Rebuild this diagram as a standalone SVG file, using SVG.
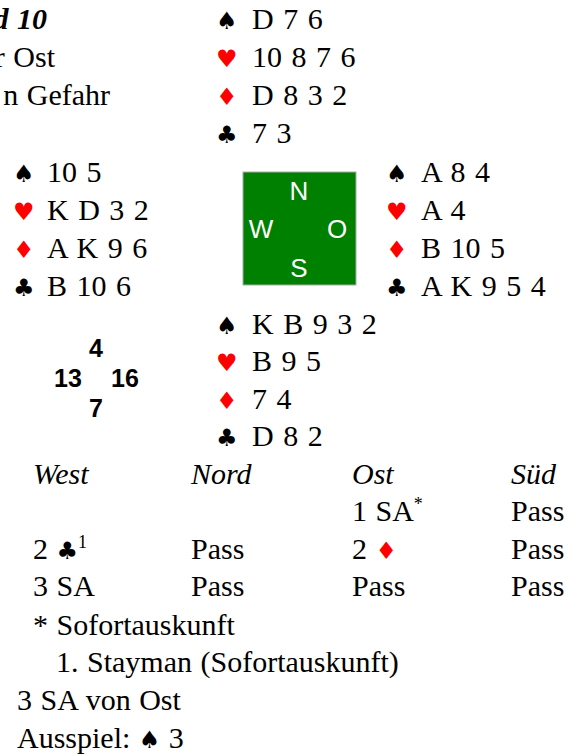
<svg xmlns="http://www.w3.org/2000/svg" width="581" height="755" viewBox="0 0 581 755">
<style>
.t{font-family:"Liberation Serif","Times New Roman",serif;font-size:30px;fill:#000;word-spacing:1px}
.i{font-style:italic}
.s{font-family:"DejaVu Sans",sans-serif;font-size:24px}
.b{fill:#000}
.r{fill:#ff0000}
.c{font-family:"Liberation Sans",Arial,sans-serif;font-size:26px;fill:#fff;text-anchor:middle}
.h{font-family:"Liberation Sans",Arial,sans-serif;font-size:25px;font-weight:bold;fill:#000;text-anchor:middle}
.sup{font-size:18px}
.k{word-spacing:2px}
</style>
<g id="header">
<text class="t" x="47" y="29" text-anchor="end" font-weight="bold" font-style="italic">d 10</text>
<text class="t" x="55" y="67" text-anchor="end">r Ost</text>
<text class="t" x="110" y="105" text-anchor="end">n Gefahr</text>
</g>
<g id="north">
<text class="s b" x="216" y="29">♠</text><text class="t k" x="252" y="29">D 7 6</text>
<text class="s r" x="216" y="67">♥</text><text class="t k" x="252" y="67">10 8 7 6</text>
<text class="s r" x="216" y="105">♦</text><text class="t k" x="252" y="105">D 8 3 2</text>
<text class="s b" x="216" y="143">♣</text><text class="t k" x="252" y="143">7 3</text>
</g>
<g id="west">
<text class="s b" x="13" y="182">♠</text><text class="t k" x="47" y="182">10 5</text>
<text class="s r" x="13" y="220">♥</text><text class="t k" x="47" y="220">K D 3 2</text>
<text class="s r" x="13" y="258">♦</text><text class="t k" x="47" y="258">A K 9 6</text>
<text class="s b" x="13" y="296">♣</text><text class="t k" x="47" y="296">B 10 6</text>
</g>
<g id="compass">
<rect x="243" y="172" width="113" height="113" fill="#008000" stroke="#aaa" stroke-width="1"/>
<text class="c" x="299" y="200">N</text>
<text class="c" x="261" y="238">W</text>
<text class="c" x="337" y="238">O</text>
<text class="c" x="299" y="277">S</text>
</g>
<g id="east">
<text class="s b" x="386" y="182">♠</text><text class="t k" x="421" y="182">A 8 4</text>
<text class="s r" x="386" y="220">♥</text><text class="t k" x="421" y="220">A 4</text>
<text class="s r" x="386" y="258">♦</text><text class="t k" x="421" y="258">B 10 5</text>
<text class="s b" x="386" y="296">♣</text><text class="t k" x="421" y="296">A K 9 5 4</text>
</g>
<g id="south">
<text class="s b" x="216" y="334">♠</text><text class="t k" x="252" y="334">K B 9 3 2</text>
<text class="s r" x="216" y="371">♥</text><text class="t k" x="252" y="371">B 9 5</text>
<text class="s r" x="216" y="409">♦</text><text class="t k" x="252" y="409">7 4</text>
<text class="s b" x="216" y="446">♣</text><text class="t k" x="252" y="446">D 8 2</text>
</g>
<g id="hcp">
<text class="h" x="96" y="357">4</text>
<text class="h" x="68" y="387">13</text>
<text class="h" x="125" y="387">16</text>
<text class="h" x="96" y="417">7</text>
</g>
<g id="bidding">
<text class="t i" x="33" y="484">West</text>
<text class="t i" x="191" y="484">Nord</text>
<text class="t i" x="352" y="484">Ost</text>
<text class="t i" x="511" y="484">Süd</text>
<text class="t" x="352" y="521">1 SA<tspan class="sup" dy="-11">*</tspan></text>
<text class="t" x="511" y="521">Pass</text>
<text class="t" x="33" y="559">2 <tspan class="s">♣</tspan><tspan class="sup" dy="-11">1</tspan></text>
<text class="t" x="191" y="559">Pass</text>
<text class="t" x="352" y="559">2 <tspan class="s r">♦</tspan></text>
<text class="t" x="511" y="559">Pass</text>
<text class="t" x="33" y="596">3 SA</text>
<text class="t" x="191" y="596">Pass</text>
<text class="t" x="352" y="596">Pass</text>
<text class="t" x="511" y="596">Pass</text>
</g>
<g id="notes">
<text class="t" x="33" y="635">* Sofortauskunft</text>
<text class="t" x="56" y="672">1. Stayman (Sofortauskunft)</text>
<text class="t" x="17" y="710">3 SA von Ost</text>
<text class="t" x="17" y="748">Ausspiel: <tspan class="s">♠</tspan> 3</text>
</g>
</svg>
